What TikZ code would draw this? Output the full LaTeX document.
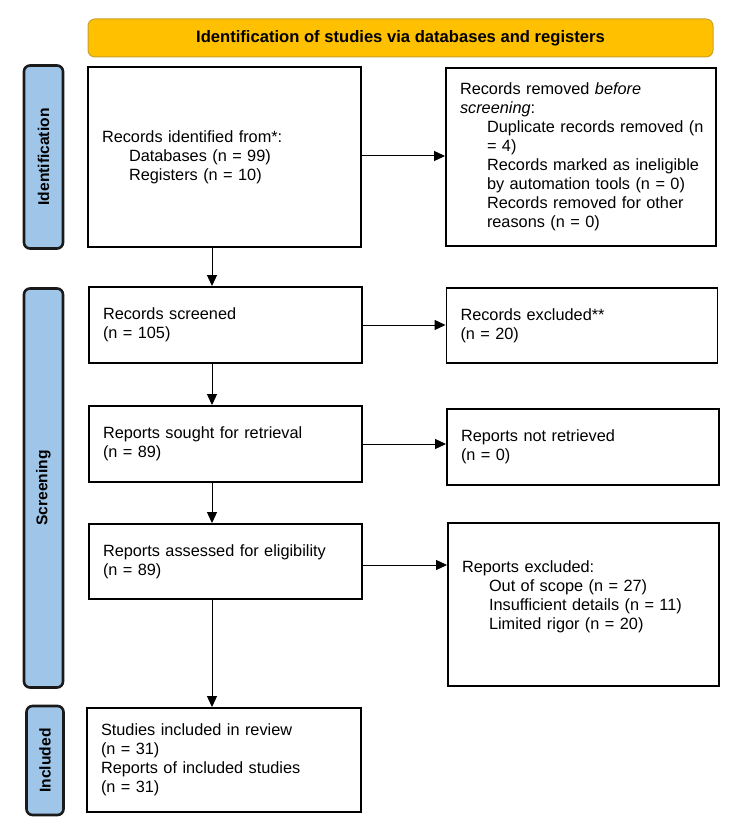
\documentclass[tikz,border=0pt]{standalone}
\usepackage{fontspec}
\setmainfont{Liberation Sans}
\usetikzlibrary{arrows.meta}
\definecolor{bannerfill}{HTML}{FFC000}
\definecolor{bannerline}{HTML}{C9A227}
\definecolor{sidefill}{HTML}{9FC5E8}
\definecolor{sideline}{HTML}{1A1A1A}
\begin{document}
\begin{tikzpicture}[x=1pt,y=-1pt,
  box/.style={draw=black,line width=1.9pt,fill=white,rectangle,inner xsep=14pt,inner ysep=0pt,
    align=left,font=\fontsize{16.3}{19}\selectfont},
  banner/.style={draw=bannerline,line width=1pt,fill=bannerfill,rounded corners=7pt,
    font=\bfseries\fontsize{16.6}{19}\selectfont},
  side/.style={draw=sideline,line width=2.6pt,fill=sidefill,rounded corners=6pt},
  sidetext/.style={rotate=90,font=\bfseries\fontsize{15.6}{18}\selectfont},
  arr/.style={line width=1pt,-{Triangle[length=11pt,width=10pt]}}]
\useasboundingbox (0,0) rectangle (750,837);
\newcommand{\ind}{\hspace*{27pt}}
% banner
\node[banner,minimum width=625pt,minimum height=38pt] (ban) at (400.5,38) {Identification of studies via databases and registers};
% side bars
\node[side,minimum width=39pt,minimum height=183pt] (sid) at (43.5,157) {};
\node[sidetext] (sidt) at (sid.center) {Identification};
\node[side,minimum width=39pt,minimum height=399pt] (scr) at (43.5,488) {};
\node[sidetext] (scrt) at (scr.center) {Screening};
\node[side,minimum width=37pt,minimum height=109pt] (inc) at (45,760.5) {};
\node[sidetext] (inct) at (inc.center) {Included};
% boxes
\node[box,minimum width=273pt,minimum height=180pt,text width=245pt] (b1) at (224.5,157)
 {Records identified from*:\\\ind Databases (n = 99)\\\ind Registers (n = 10)};
\node[box,minimum width=270pt,minimum height=178pt,text width=242pt] (b2) at (581,157)
 {Records removed \textit{before}\\\textit{screening}:\\
  \ind\mbox{Duplicate records removed (n}\\\ind = 4)\\
  \ind\mbox{Records marked as ineligible}\\\ind\mbox{by automation tools (n = 0)}\\
  \ind Records removed for other\\\ind reasons (n = 0)};
\node[box,minimum width=273pt,minimum height=76pt,text width=245pt] (b3) at (225.5,325)
 {Records screened\\(n = 105)};
\node[box,minimum width=271pt,minimum height=75pt,text width=243pt] (b4) at (582,325.5)
 {Records excluded**\\(n = 20)};
\node[box,minimum width=273pt,minimum height=76pt,text width=245pt] (b5) at (225.5,444)
 {Reports sought for retrieval\\(n = 89)};
\node[box,minimum width=272pt,minimum height=76pt,text width=244pt] (b6) at (583,447)
 {Reports not retrieved\\(n = 0)};
\node[box,minimum width=273pt,minimum height=75pt,text width=245pt] (b7) at (225.5,561.5)
 {Reports assessed for eligibility\\(n = 89)};
\node[box,minimum width=271pt,minimum height=163pt,text width=243pt] (b8) at (583.5,604.5)
 {Reports excluded:\\\ind Out of scope (n = 27)\\\ind Insufficient details (n = 11)\\\ind Limited rigor (n = 20)\\\mbox{}};
\node[box,minimum width=274pt,minimum height=104pt,text width=246pt] (b9) at (224,760)
 {Studies included in review\\(n = 31)\\Reports of included studies\\(n = 31)};
% arrows
\draw[arr] (b1.east |- 0,156) -- (b2.west |- 0,156);
\draw[arr] (b3.east |- 0,325) -- (b4.west |- 0,325);
\draw[arr] (b5.east |- 0,444) -- (b6.west |- 0,444);
\draw[arr] (b7.east |- 0,565) -- (b8.west |- 0,565);
\draw[arr] (212,0 |- b1.south) -- (212,0 |- b3.north);
\draw[arr] (212,0 |- b3.south) -- (212,0 |- b5.north);
\draw[arr] (212,0 |- b5.south) -- (212,0 |- b7.north);
\draw[arr] (212,0 |- b7.south) -- (212,0 |- b9.north);
\end{tikzpicture}
\end{document}
